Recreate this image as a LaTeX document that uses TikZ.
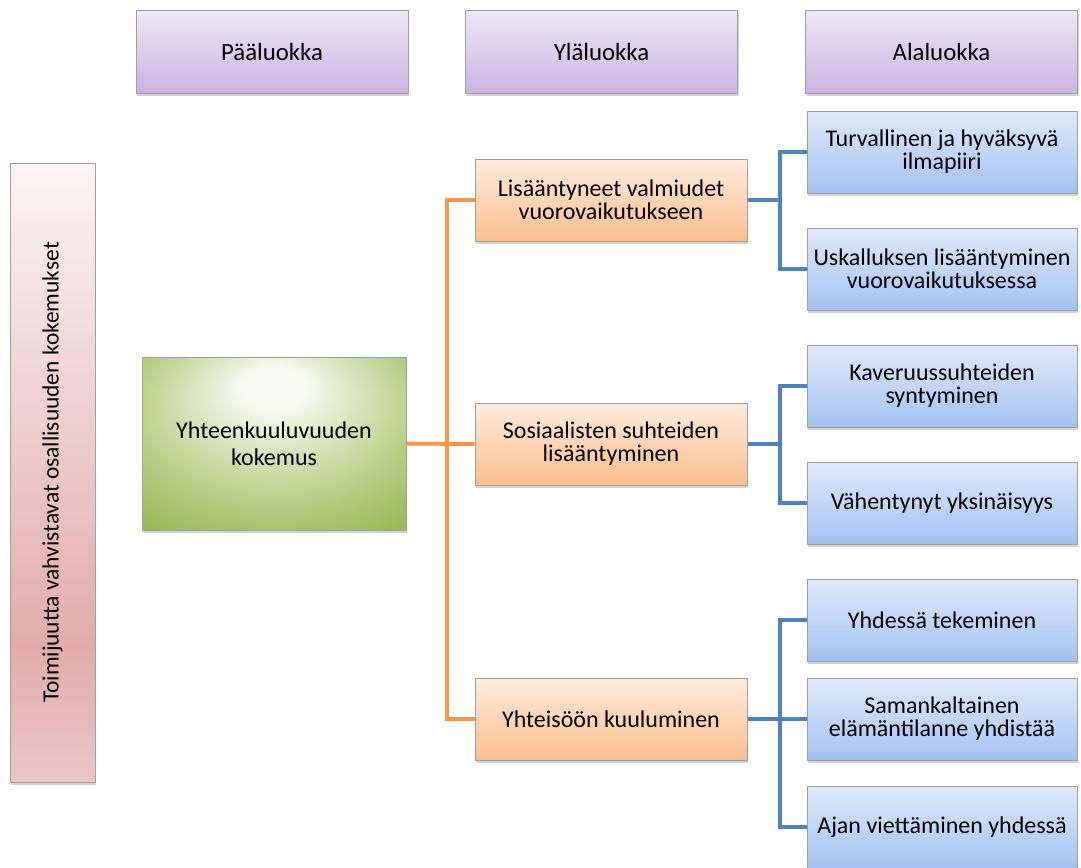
\documentclass[tikz,border=0pt]{standalone}
\usepackage{fontspec}
\setmainfont{Carlito}
\usepackage{tikz}
\usetikzlibrary{shadows}
\definecolor{headtop}{HTML}{EFE9F7}
\definecolor{headbot}{HTML}{C9B2E0}
\definecolor{pinktop}{HTML}{FCF5F5}
\definecolor{pinkdark}{HTML}{E3ACAC}
\definecolor{pinkbot}{HTML}{EAC6C6}
\definecolor{orangetop}{HTML}{FEECDF}
\definecolor{orangebot}{HTML}{FBBD8C}
\definecolor{bluetop}{HTML}{E0EAFA}
\definecolor{bluebot}{HTML}{A3C1F2}
\definecolor{greenlight}{HTML}{F8FAF1}
\definecolor{greenmid}{HTML}{C2D698}
\definecolor{greendark}{HTML}{98B955}
\definecolor{orangeline}{HTML}{F79646}
\definecolor{blueline}{HTML}{4F81BD}
\pgfdeclareverticalshading{sidepink}{100bp}{color(0bp)=(pinkbot); color(25bp)=(pinkbot); color(36bp)=(pinkdark); color(75bp)=(pinktop); color(100bp)=(pinktop)}
\pgfdeclareradialshading{greenglow}{\pgfpoint{0bp}{18bp}}{color(0bp)=(greenlight); color(6bp)=(greenlight); color(23bp)=(greenmid); color(39bp)=(greendark); color(60bp)=(greendark)}
\tikzset{
    box/.style={draw=gray!75, line width=0.5pt, align=center, inner sep=2pt,
        font=\fontsize{12}{11.5}\selectfont,
        drop shadow={shadow xshift=0.6pt, shadow yshift=-1.6pt, opacity=0.35}},
    headbox/.style={box, top color=headtop, bottom color=headbot, minimum width=136pt, minimum height=41.5pt,
        font=\fontsize{12.4}{13}\selectfont},
    sidebox/.style={box, shading=sidepink, rotate=90, minimum width=309.5pt, minimum height=42.5pt,
        font=\fontsize{11.7}{13}\selectfont},
    mainbox/.style={box, shading=greenglow, minimum width=132pt, minimum height=86.5pt,
        font=\fontsize{12}{13.5}\selectfont},
    upperbox/.style={box, top color=orangetop, bottom color=orangebot, minimum width=136pt, minimum height=41pt},
    lowerbox/.style={box, top color=bluetop, bottom color=bluebot, minimum width=135pt, minimum height=41pt},
    orangelink/.style={draw=orangeline, line width=2pt},
    bluelink/.style={draw=blueline, line width=2pt}
}

\begin{document}
\begin{tikzpicture}[x=0.5pt, y=-0.5pt]
    \useasboundingbox (0,0) rectangle (1081,867);
    \node[headbox] (paa) at (272,51.5) {Pääluokka};
    \node[headbox] (yla) at (601.5,51.5) {Yläluokka};
    \node[headbox] (ala) at (941.5,51.5) {Alaluokka};
    \node[sidebox] (side) at (52.5,472.5) {Toimijuutta vahvistavat osallisuuden kokemukset};
    \node[mainbox] (yhteen) at (274,443.5) {Yhteenkuuluvuuden\\kokemus};
    \node[upperbox] (lis) at (611,200) {Lisääntyneet valmiudet\\vuorovaikutukseen};
    \node[upperbox] (sos) at (611,444) {Sosiaalisten suhteiden\\lisääntyminen};
    \node[upperbox] (yht) at (611,719) {Yhteisöön kuuluminen};
    \node[lowerbox] (turv) at (942,152) {Turvallinen ja hyväksyvä\\ilmapiiri};
    \node[lowerbox] (usk) at (942,269) {Uskalluksen lisääntyminen\\vuorovaikutuksessa};
    \node[lowerbox] (kav) at (942,386) {Kaveruussuhteiden\\syntyminen};
    \node[lowerbox] (vah) at (942,503) {Vähentynyt yksinäisyys};
    \node[lowerbox] (yhd) at (942,620) {Yhdessä tekeminen};
    \node[lowerbox] (sam) at (942,719) {Samankaltainen\\elämäntilanne yhdistää};
    \node[lowerbox] (aja) at (942,827) {Ajan viettäminen yhdessä};
    \coordinate (ojoint) at (447,444);
    \coordinate (bj1) at (780,200);
    \coordinate (bj2) at (780,444);
    \coordinate (bj3) at (780,719);
    \draw[orangelink] (yhteen.east) -- (sos.west);
    \draw[orangelink] (lis.west) -| (ojoint) |- (yht.west);
    \draw[bluelink] (lis.east) -- (bj1);
    \draw[bluelink] (turv.west) -| (bj1) |- (usk.west);
    \draw[bluelink] (sos.east) -- (bj2);
    \draw[bluelink] (kav.west) -| (bj2) |- (vah.west);
    \draw[bluelink] (yht.east) -- (sam.west);
    \draw[bluelink] (yhd.west) -| (bj3) |- (aja.west);
\end{tikzpicture}
\end{document}
